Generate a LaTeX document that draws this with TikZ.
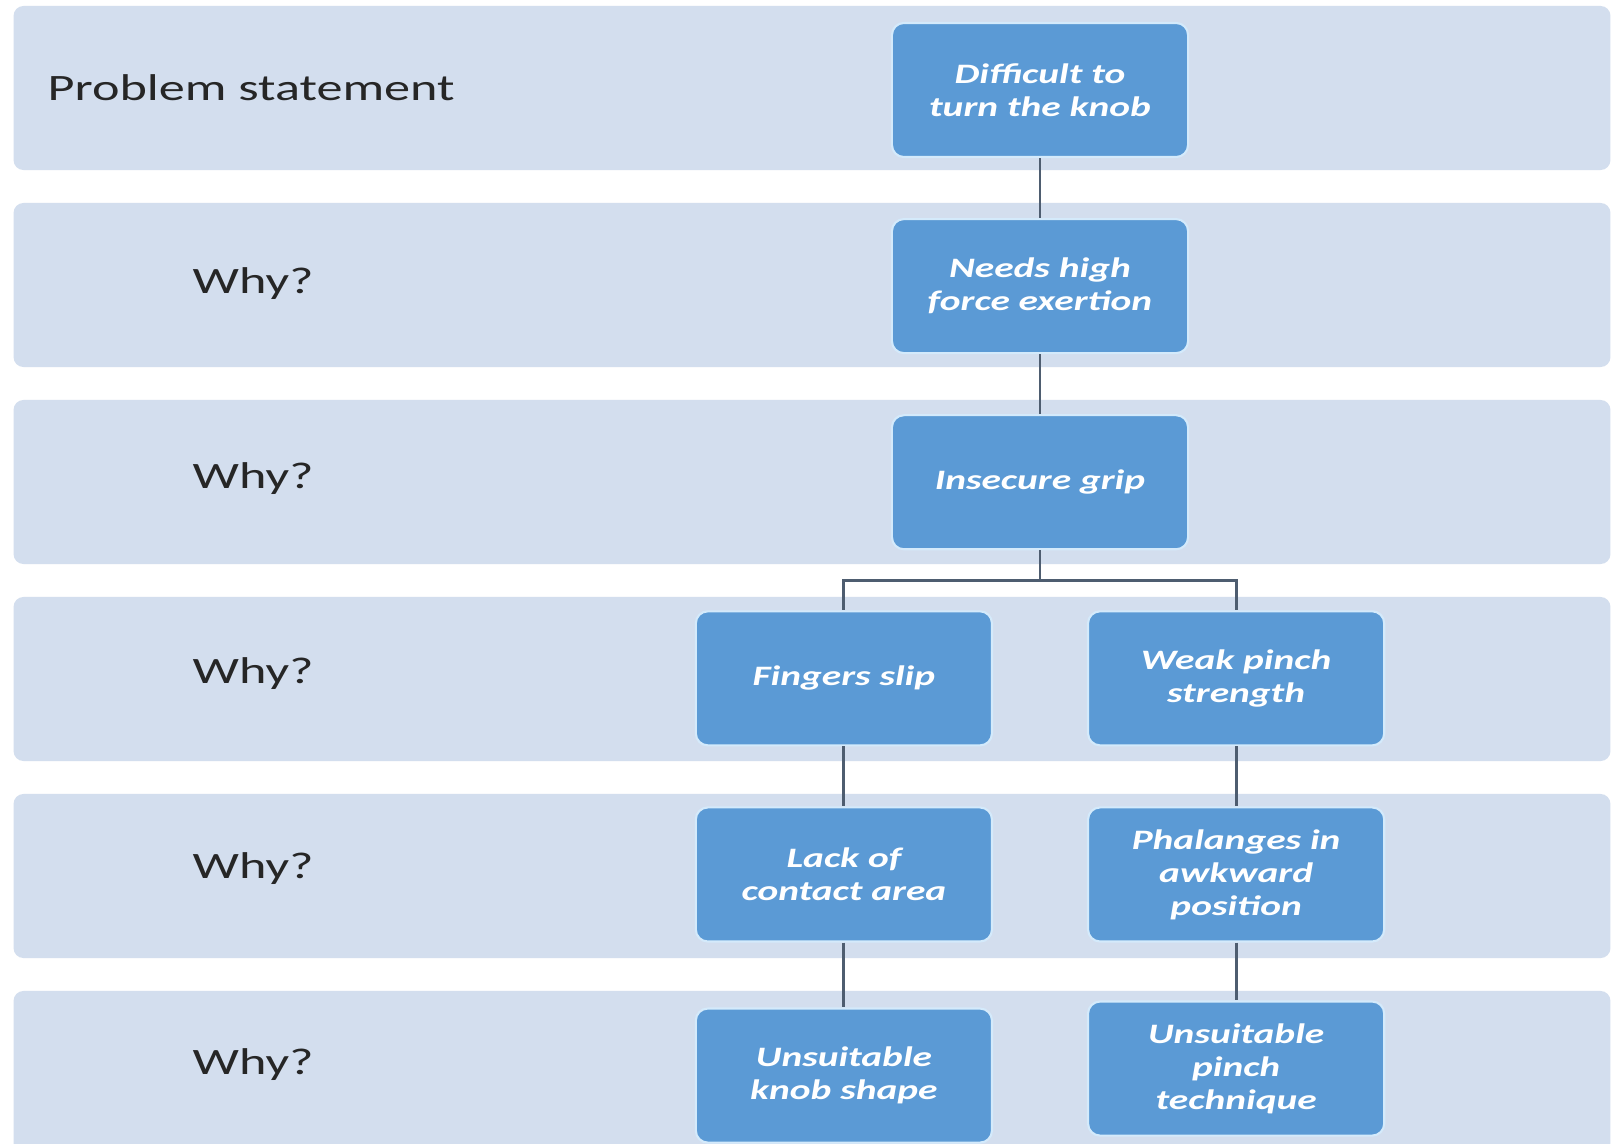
\documentclass[tikz,border=0pt]{standalone}
\usepackage{fontspec}
\setmainfont{Carlito}[FakeStretch=1.4]
\usepackage{tikz}
\usetikzlibrary{positioning}
\definecolor{bandfill}{HTML}{D3DEEE}
\definecolor{boxfill}{HTML}{5B9AD5}
\definecolor{boxline}{HTML}{D4EAFB}
\definecolor{linkcol}{HTML}{4E5D70}

\begin{document}
\begin{tikzpicture}[x=0.01cm,y=-0.01cm,node distance=1.96cm,on grid,
	band/.style={rectangle,fill=bandfill,rounded corners=0.1cm,inner sep=0pt,minimum width=15.96cm,minimum height=1.64cm},
	cause/.style={rectangle,rounded corners=0.12cm,fill=boxfill,draw=boxline,line width=0.6pt,minimum width=2.96cm,minimum height=1.34cm,text=white,align=center,font=\fontsize{8}{9.4}\selectfont\bfseries\itshape},
	rowlabel/.style={anchor=west,inner sep=0pt,text=black!85,font=\fontsize{10.6}{12}\selectfont}]
	\clip (0,0) rectangle (1619,1143);
	\fill[white] (0,0) rectangle (1619,1143);

	\node[band] (b1) at (812,88) {};
	\node[band] (b2) at (812,285) {};
	\node[band] (b3) at (812,482) {};
	\node[band] (b4) at (812,679) {};
	\node[band] (b5) at (812,876) {};
	\node[band] (b6) at (812,1073) {};

	\node[rowlabel] (ps) at (47,88) {Problem statement};
	\node[rowlabel] (w2) at (192,284) {Why?};
	\node[rowlabel] (w3) at (192,479) {Why?};
	\node[rowlabel] (w4) at (192,674) {Why?};
	\node[rowlabel] (w5) at (192,869) {Why?};
	\node[rowlabel] (w6) at (192,1065) {Why?};

	\node[cause]          (n1) at (1040,90)     {Difficult to\\turn the knob};
	\node[cause]          (n2) [below =of n1]   {Needs high\\force exertion};
	\node[cause]          (n3) [below =of n2]   {Insecure grip};
	\node[cause]          (n4a) [below left =1.96cm and 1.96cm of n3]  {Fingers slip};
	\node[cause]          (n4b) [below right =1.96cm and 1.96cm of n3] {Weak pinch\\strength};
	\node[cause]          (n5a) [below =of n4a] {Lack of\\contact area};
	\node[cause]          (n5b) [below =of n4b] {Phalanges in\\awkward\\position};
	\node[cause]          (n6a) [below =2.01cm of n5a] {Unsuitable\\knob shape};
	\node[cause]          (n6b) [below =1.94cm of n5b] {Unsuitable\\pinch\\technique};

	\tikzset{link/.style={-,draw=linkcol,line width=0.8pt}}

	\path (n1)     edge [link]    (n2)
		  (n2)     edge [link]    (n3)
		  (n4a)    edge [link]    (n5a)
		  (n5a)    edge [link]    (n6a)
		  (n4b)    edge [link]    (n5b)
		  (n5b)    edge [link]    (n6b);
	\draw[link] (n3.south) -- ++(0,30) -| (n4a.north);
	\draw[link] (n3.south) -- ++(0,30) -| (n4b.north);
\end{tikzpicture}
\end{document}
